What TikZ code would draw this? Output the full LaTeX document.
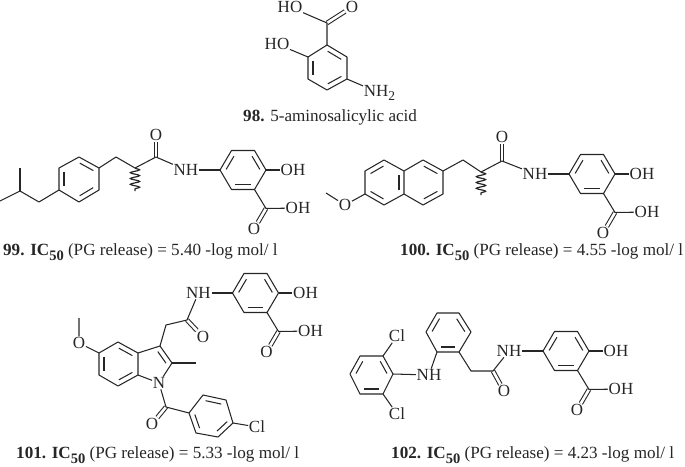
\documentclass[tikz,border=0pt]{standalone}
\usepackage{fontspec}
\setmainfont{Liberation Serif}
\usetikzlibrary{calc, decorations.pathmorphing}

\newcommand{\ringdbl}[2]{\draw[bond] ($(#1)!0.16!(#2)!5pt!90:(#2)$) -- ($(#2)!0.16!(#1)!5pt!-90:(#1)$);}
\newcommand{\subfifty}{\raisebox{-5pt}{\fontsize{14.5}{15}\selectfont\textbf{50}}}

\tikzset{
  bond/.style = {draw = black!85, line width = 1.05pt, line join = round},
  carbonyl/.style = {draw = black!85, line width = 1.05pt, double, double distance = 2.6pt},
  wavy/.style = {draw = black!85, line width = 1.2pt, decorate, decoration = {snake, segment length = 5.8pt, amplitude = 4.6pt}},
  atom/.style = {inner sep = 0.6pt, text = black!85, font = \fontsize{17}{18}\selectfont},
  caption/.style = {inner sep = 0pt, anchor = west, text = black!85, font = \fontsize{17.1}{18}\selectfont},
  salamide/.pic = {
    \coordinate (-a) at (-23,0);
    \coordinate (-b) at (-11.5,-19.5);
    \coordinate (-c) at (11.5,-19.5);
    \coordinate (-d) at (23,0);
    \coordinate (-e) at (11.5,19.5);
    \coordinate (-f) at (-11.5,19.5);
    \coordinate (-g) at (23,38.5);
    \node[atom] (-nh) at (-57,0) {NH};
    \node[atom] (-oh) at (50,0) {OH};
    \node[atom] (-acid) at (55,38) {OH};
    \node[atom] (-o) at (11,59) {O};
    \draw[carbonyl] (-g) -- (-o);
    \draw[bond] (-a) -- (-b) -- (-c) -- (-d) -- (-e) -- (-f) -- cycle;
    \ringdbl{-b}{-a}
    \ringdbl{-d}{-c}
    \ringdbl{-f}{-e}
    \draw[bond] (-nh) -- (-a);
    \draw[bond] (-d) -- (-oh);
    \draw[bond] (-e) -- (-g) -- (-acid);
  }
}

\begin{document}
\begin{tikzpicture}[x = 1pt, y = -1pt]
\useasboundingbox (0,0) rectangle (685,466);

% 98
\coordinate (a98) at (327,45);
\coordinate (b98) at (347,57);
\coordinate (c98) at (347,79);
\coordinate (d98) at (327,90);
\coordinate (e98) at (308,79);
\coordinate (f98) at (308,57);
\coordinate (g98) at (327,23);
\node[atom] (o98) at (352,7) {O};
\node[atom] (acid98) at (290,7) {HO};
\node[atom] (ho98) at (277,44) {HO};
\node[atom, anchor = west] (n98) at (363,93) {NH\raisebox{-4pt}{\fontsize{13.5}{14}\selectfont 2}};
\draw[carbonyl] (g98) -- (o98);
\draw[bond] (a98) -- (b98) -- (c98) -- (d98) -- (e98) -- (f98) -- cycle;
\ringdbl{f98}{e98}
\ringdbl{d98}{c98}
\ringdbl{b98}{a98}
\draw[bond] (a98) -- (g98) -- (acid98);
\draw[bond] (f98) -- (ho98);
\draw[bond] (c98) -- (n98);
\node[caption] (cap98) at (243,117) {\textbf{98.} 5-aminosalicylic acid};

% 99
\pic (s99) at (243,170) {salamide};
\coordinate (a99) at (79,157);
\coordinate (b99) at (99,168);
\coordinate (c99) at (99,190);
\coordinate (d99) at (79,202);
\coordinate (e99) at (59,190);
\coordinate (f99) at (59,168);
\coordinate (g99) at (39,202);
\coordinate (h99) at (20,191);
\coordinate (i99) at (20,168);
\coordinate (j99) at (0,201);
\coordinate (k99) at (116,157);
\coordinate (l99) at (135,168);
\coordinate (m99) at (135,191);
\coordinate (n99) at (156,157);
\node[atom] (o99) at (156,135) {O};
\draw[carbonyl] (n99) -- (o99);
\draw[bond] (a99) -- (b99) -- (c99) -- (d99) -- (e99) -- (f99) -- cycle;
\ringdbl{f99}{e99}
\ringdbl{d99}{c99}
\ringdbl{b99}{a99}
\draw[bond] (j99) -- (h99) -- (g99) -- (e99);
\draw[bond] (i99) -- (h99);
\draw[bond] (b99) -- (k99) -- (l99) -- (n99) -- (s99-nh);
\draw[wavy] (l99) -- (m99);
\node[caption] (cap99) at (3,252) {\textbf{99. IC}\subfifty{} (PG release) = 5.40 -log mol/ l};

% 100
\pic (s100) at (592,174) {salamide};
\coordinate (a100) at (384,160);
\coordinate (b100) at (404,171);
\coordinate (c100) at (404,194);
\coordinate (d100) at (384,205);
\coordinate (e100) at (365,194);
\coordinate (f100) at (365,171);
\coordinate (g100) at (423,160);
\coordinate (h100) at (443,171);
\coordinate (i100) at (443,194);
\coordinate (j100) at (423,205);
\coordinate (k100) at (463,160);
\coordinate (l100) at (481,172);
\coordinate (m100) at (481,195);
\coordinate (n100) at (502,161);
\coordinate (q100) at (326,193);
\node[atom] (o100) at (502,137) {O};
\node[atom] (me100) at (345,205) {O};
\draw[carbonyl] (n100) -- (o100);
\draw[bond] (a100) -- (b100) -- (c100) -- (d100) -- (e100) -- (f100) -- cycle;
\draw[bond] (b100) -- (g100) -- (h100) -- (i100) -- (j100) -- (c100);
\ringdbl{a100}{f100}
\ringdbl{e100}{d100}
\ringdbl{c100}{b100}
\ringdbl{j100}{i100}
\ringdbl{h100}{g100}
\draw[bond] (q100) -- (me100) -- (e100);
\draw[bond] (h100) -- (k100) -- (l100) -- (n100) -- (s100-nh);
\draw[wavy] (l100) -- (m100);
\node[caption] (cap100) at (400,252) {\textbf{100. IC}\subfifty{} (PG release) = 4.55 -log mol/ l};

% 101
\pic (s101) at (255.5,293) {salamide};
\coordinate (a101) at (118,342);
\coordinate (b101) at (138,353);
\coordinate (c101) at (138,375);
\coordinate (d101) at (118,386);
\coordinate (e101) at (99,375);
\coordinate (f101) at (99,353);
\coordinate (g101) at (160,346);
\coordinate (h101) at (172,363);
\coordinate (i101) at (196,363);
\coordinate (j101) at (166,325);
\coordinate (k101) at (187,320);
\coordinate (l101) at (79,318);
\coordinate (m101) at (166,407);
\coordinate (p101) at (189,413);
\coordinate (q101) at (203,395);
\coordinate (r101) at (226,400);
\coordinate (t101) at (233,423);
\coordinate (u101) at (218,437);
\coordinate (v101) at (196,433);
\node[atom] (n101) at (159,383) {N};
\node[atom] (ome101) at (79,343) {O};
\node[atom] (o101) at (203,337) {O};
\node[atom] (co101) at (152,424) {O};
\node[atom] (cl101) at (257,427) {Cl};
\draw[carbonyl] (k101) -- (o101);
\draw[carbonyl] (m101) -- (co101);
\draw[bond] (a101) -- (b101) -- (c101) -- (d101) -- (e101) -- (f101) -- cycle;
\ringdbl{f101}{e101}
\ringdbl{d101}{c101}
\ringdbl{b101}{a101}
\draw[bond] (b101) -- (g101) -- (h101) -- (n101) -- (c101);
\ringdbl{h101}{g101}
\draw[bond] (h101) -- (i101);
\draw[bond] (g101) -- (j101) -- (k101) -- (s101-nh);
\draw[bond] (l101) -- (ome101) -- (f101);
\draw[bond] (n101) -- (m101) -- (p101);
\draw[bond] (p101) -- (q101) -- (r101) -- (t101) -- (u101) -- (v101) -- cycle;
\ringdbl{r101}{q101}
\ringdbl{p101}{v101}
\ringdbl{u101}{t101}
\draw[bond] (t101) -- (cl101);
\node[caption] (cap101) at (16,455) {\textbf{101. IC}\subfifty{} (PG release) = 5.33 -log mol/ l};

% 102
\pic (s102) at (566,351) {salamide};
\coordinate (a102) at (360,356);
\coordinate (b102) at (383,356);
\coordinate (c102) at (393,374);
\coordinate (d102) at (383,394);
\coordinate (e102) at (360,394);
\coordinate (f102) at (350,374);
\coordinate (g102) at (437,352);
\coordinate (h102) at (459,352);
\coordinate (i102) at (471,332);
\coordinate (j102) at (459,313);
\coordinate (k102) at (437,313);
\coordinate (l102) at (426,332);
\coordinate (m102) at (471,371);
\coordinate (p102) at (493,371);
\node[atom] (cla102) at (397,336) {Cl};
\node[atom] (clb102) at (397,414) {Cl};
\node[atom] (n102) at (429,375) {NH};
\node[atom] (o102) at (504,391) {O};
\draw[carbonyl] (p102) -- (o102);
\draw[bond] (a102) -- (b102) -- (c102) -- (d102) -- (e102) -- (f102) -- cycle;
\ringdbl{a102}{f102}
\ringdbl{e102}{d102}
\ringdbl{c102}{b102}
\draw[bond] (b102) -- (cla102);
\draw[bond] (d102) -- (clb102);
\draw[bond] (c102) -- (n102) -- (g102);
\draw[bond] (g102) -- (h102) -- (i102) -- (j102) -- (k102) -- (l102) -- cycle;
\ringdbl{g102}{h102}
\ringdbl{i102}{j102}
\ringdbl{k102}{l102}
\draw[bond] (h102) -- (m102) -- (p102) -- (s102-nh);
\node[caption] (cap102) at (391,455) {\textbf{102. IC}\subfifty{} (PG release) = 4.23 -log mol/ l};
\end{tikzpicture}
\end{document}
